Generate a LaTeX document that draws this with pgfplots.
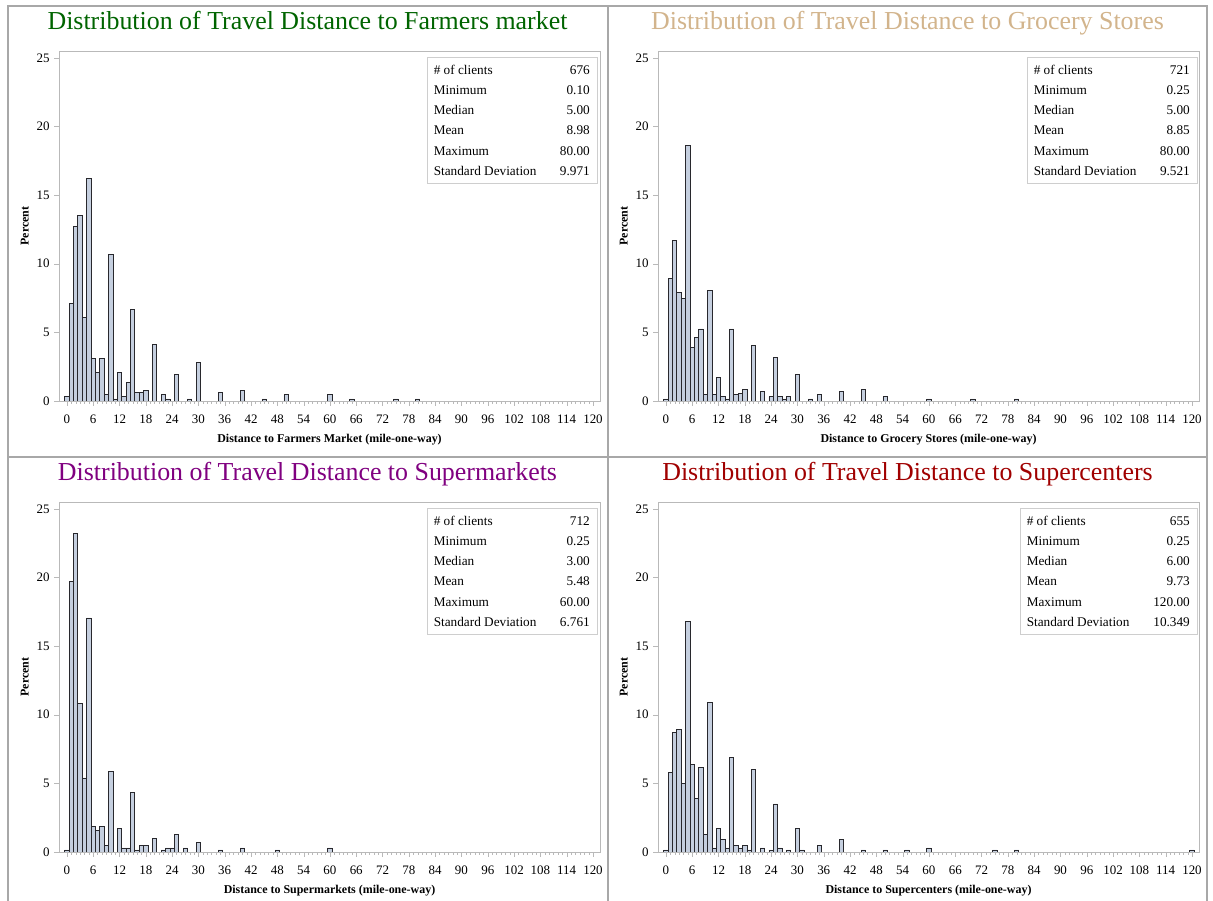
\documentclass[border=0pt]{standalone}
\usepackage{fontspec}
\setmainfont{Liberation Serif}
\usepackage{pgfplots}
\usepackage{pgfplotstable}
\pgfplotsset{compat=1.18}

\definecolor{barfill}{RGB}{197,207,223}
\definecolor{barline}{RGB}{40,40,45}
\definecolor{framegray}{RGB}{185,185,185}
\definecolor{sepgray}{RGB}{168,168,168}
\definecolor{tFarm}{RGB}{0,100,0}
\definecolor{tGroc}{RGB}{210,180,140}
\definecolor{tSupm}{RGB}{128,0,128}
\definecolor{tSupc}{RGB}{160,0,0}

\pgfplotstableread{
x y
0 0.3
1 7.1
2 12.7
3 13.5
4 6.1
5 16.2
6 3.1
7 2.1
8 3.1
9 0.45
10 10.7
11 0.15
12 2.1
13 0.3
14 1.35
15 6.7
16 0.6
17 0.6
18 0.75
20 4.15
22 0.45
23 0.15
25 1.95
28 0.15
30 2.8
35 0.6
40 0.75
45 0.15
50 0.45
60 0.45
65 0.15
75 0.15
80 0.15
}\farmers

\pgfplotstableread{
x y
0 0.15
1 8.9
2 11.7
3 7.9
4 7.5
5 18.6
6 3.9
7 4.6
8 5.25
9 0.45
10 8.05
11 0.45
12 1.7
13 0.3
14 0.15
15 5.25
16 0.45
17 0.55
18 0.85
20 4.05
22 0.7
24 0.3
25 3.2
26 0.3
27 0.15
28 0.3
30 1.95
33 0.15
35 0.45
40 0.7
45 0.85
50 0.3
60 0.15
70 0.15
80 0.15
}\grocery

\pgfplotstableread{
x y
0 0.15
1 19.7
2 23.2
3 10.85
4 5.4
5 17.05
6 1.85
7 1.6
8 1.85
9 0.45
10 5.9
12 1.7
13 0.3
14 0.3
15 4.35
16 0.15
17 0.45
18 0.45
20 1.0
22 0.15
23 0.3
24 0.3
25 1.3
27 0.3
30 0.7
35 0.15
40 0.3
48 0.15
60 0.3
}\supermarkets

\pgfplotstableread{
x y
0 0.15
1 5.8
2 8.7
3 8.9
4 5.0
5 16.8
6 6.4
7 3.9
8 6.15
9 1.25
10 10.9
11 0.3
12 1.7
13 0.9
14 0.3
15 6.9
16 0.5
17 0.3
18 0.5
19 0.15
20 6.0
22 0.3
24 0.15
25 3.5
26 0.3
28 0.15
30 1.7
31 0.15
35 0.45
40 0.9
45 0.15
50 0.15
55 0.15
60 0.3
75 0.15
80 0.15
120 0.15
}\supercenters

\pgfplotsset{histpanel/.style={
  scale only axis, width=541bp, height=350bp,
  anchor=south west,
  xmin=-1.8, xmax=121.6, ymin=0, ymax=25.5,
  axis line style={draw=framegray},
  xtick={0,6,...,120}, ytick={0,5,...,25},
  minor x tick num=5,
  tick align=outside, tick pos=left,
  major tick length=5bp, minor tick length=3bp,
  tick style={draw=framegray},
  ticklabel style={font=\fontsize{13}{15}\selectfont},
  xticklabel style={yshift=-5bp},
  yticklabel style={xshift=-1bp},
  /pgf/number format/assume math mode=true,
  ylabel={Percent},
  label style={font=\bfseries\fontsize{12}{14}\selectfont},
  xlabel style={yshift=-4bp},
  ylabel style={yshift=1bp},
  ybar, bar width=1,
}}

\newlength{\statw}
\newcommand{\srow}[2]{\makebox[\statw]{#1\hfill #2}}
\newcommand{\statbox}[8]{%
  \setlength{\statw}{#8}%
  \node[draw=framegray!70, fill=white, anchor=north east, inner xsep=7bp, inner ysep=8bp, align=left,
        font=\fontsize{13.3}{20.2}\selectfont] at (#1) {%
    \srow{\# of clients}{#2}\\
    \srow{Minimum}{#3}\\
    \srow{Median}{#4}\\
    \srow{Mean}{#5}\\
    \srow{Maximum}{#6}\\
    \srow{Standard Deviation}{#7}};}

\begin{document}
\begin{tikzpicture}[x=1bp,y=1bp]
\useasboundingbox (0,0) rectangle (1213,901);

% panel borders
\draw[sepgray, line width=2bp] (8,-10) -- (8,895) -- (1207,895) -- (1207,-10);
\draw[sepgray, line width=2bp] (607.5,-10) -- (607.5,895);
\draw[sepgray, line width=2bp] (8,443.5) -- (1207,443.5);

% titles
\node[anchor=base, font=\fontsize{26}{30}\selectfont, text=tFarm] at (307.5,871.5) {Distribution of Travel Distance to Farmers market};
\node[anchor=base, font=\fontsize{26}{30}\selectfont, text=tGroc] at (907.5,871.5) {Distribution of Travel Distance to Grocery Stores};
\node[anchor=base, font=\fontsize{26}{30}\selectfont, text=tSupm] at (307.5,420.5) {Distribution of Travel Distance to Supermarkets};
\node[anchor=base, font=\fontsize{26}{30}\selectfont, text=tSupc] at (907.5,420.5) {Distribution of Travel Distance to Supercenters};

\begin{axis}[histpanel, at={(59bp,500bp)}, xlabel={Distance to Farmers Market (mile-one-way)}]
\addplot[fill=barfill, draw=barline, line width=0.75bp] table[x=x,y=y] {\farmers};
\end{axis}

\begin{axis}[histpanel, at={(658bp,500bp)}, xlabel={Distance to Grocery Stores (mile-one-way)}]
\addplot[fill=barfill, draw=barline, line width=0.75bp] table[x=x,y=y] {\grocery};
\end{axis}

\begin{axis}[histpanel, at={(59bp,49bp)}, xlabel={Distance to Supermarkets (mile-one-way)}]
\addplot[fill=barfill, draw=barline, line width=0.75bp] table[x=x,y=y] {\supermarkets};
\end{axis}

\begin{axis}[histpanel, at={(658bp,49bp)}, xlabel={Distance to Supercenters (mile-one-way)}]
\addplot[fill=barfill, draw=barline, line width=0.75bp] table[x=x,y=y] {\supercenters};
\end{axis}

\statbox{597,844}{676}{0.10}{5.00}{8.98}{80.00}{9.971}{156bp}
\statbox{1197,844}{721}{0.25}{5.00}{8.85}{80.00}{9.521}{156bp}
\statbox{597,393}{712}{0.25}{3.00}{5.48}{60.00}{6.761}{156bp}
\statbox{1197,393}{655}{0.25}{6.00}{9.73}{120.00}{10.349}{163bp}

\end{tikzpicture}
\end{document}
